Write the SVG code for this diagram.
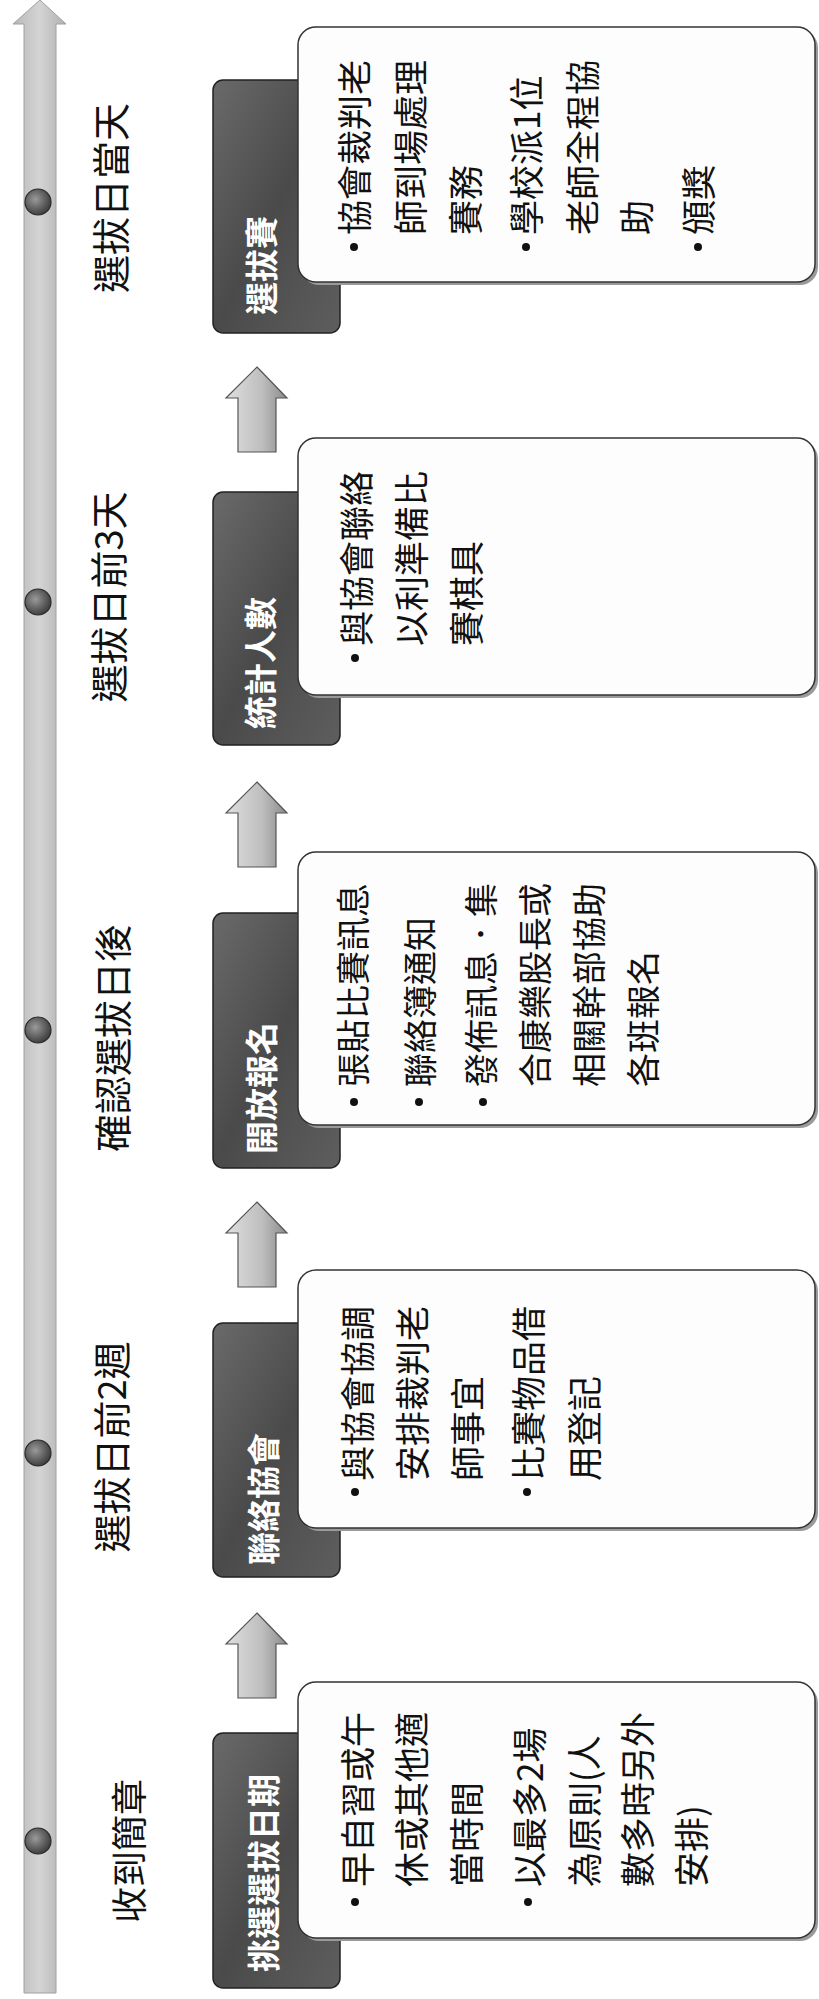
<svg xmlns="http://www.w3.org/2000/svg" width="819" height="1999" viewBox="0 0 819 1999">
<defs>
<linearGradient id="barG" x1="0" y1="0" x2="1" y2="0">
<stop offset="0" stop-color="#b8b8b8"/><stop offset="0.5" stop-color="#d4d4d4"/><stop offset="1" stop-color="#b0b0b0"/>
</linearGradient>
<linearGradient id="darkG" x1="0" y1="0" x2="1" y2="1">
<stop offset="0" stop-color="#6a6a6a"/><stop offset="0.5" stop-color="#4a4a4a"/><stop offset="1" stop-color="#5e5e5e"/>
</linearGradient>
<linearGradient id="arrG" x1="0" y1="0" x2="1" y2="0">
<stop offset="0" stop-color="#e0e0e0"/><stop offset="0.6" stop-color="#bdbdbd"/><stop offset="1" stop-color="#8a8a8a"/>
</linearGradient>
<radialGradient id="dotG" cx="0.4" cy="0.4" r="0.7">
<stop offset="0" stop-color="#9a9a9a"/><stop offset="0.6" stop-color="#5a5a5a"/><stop offset="1" stop-color="#333"/>
</radialGradient>
<style>
.lbl{font-family:"Noto Sans CJK TC","Noto Sans CJK SC",sans-serif;font-size:38px;fill:#111;text-anchor:middle;dominant-baseline:central}
.dk{fill:url(#darkG);stroke:#222;stroke-width:1.5}
.dkt{font-family:"Noto Sans CJK TC","Noto Sans CJK SC",sans-serif;font-size:33px;font-weight:bold;fill:#fff;dominant-baseline:central}
.wb{fill:#fdfdfd;stroke:#333;stroke-width:1.5}
.sh{fill:#9a9a9a}
.bt{font-family:"Noto Sans CJK TC","Noto Sans CJK SC",sans-serif;font-size:35px;fill:#111;dominant-baseline:central}
.bu{fill:#111}
.dot{fill:url(#dotG);stroke:#2a2a2a;stroke-width:1.2}
.arr{fill:url(#arrG);stroke:#555;stroke-width:1.2}
</style>
</defs>
<rect width="819" height="1999" fill="#fff"/>
<g id="timeline">
<path d="M40,0 L66,24 L56,24 L56,1993 L24,1993 L24,24 L13,24 Z" fill="url(#barG)" stroke="#a0a0a0" stroke-width="1"/>
<circle class="dot" cx="38" cy="202" r="13"/>
<circle class="dot" cx="38" cy="602" r="13"/>
<circle class="dot" cx="38" cy="1030" r="13"/>
<circle class="dot" cx="38" cy="1453" r="13"/>
<circle class="dot" cx="38" cy="1841" r="13"/>
</g>
<g id="connectors">
<path class="arr" d="M257,367 L287,398 L276,398 L276,452 L238,452 L238,398 L226,398 Z"/>
<path class="arr" d="M257,782 L287,813 L276,813 L276,867 L238,867 L238,813 L226,813 Z"/>
<path class="arr" d="M257,1202 L287,1233 L276,1233 L276,1287 L238,1287 L238,1233 L226,1233 Z"/>
<path class="arr" d="M257,1613 L287,1644 L276,1644 L276,1698 L238,1698 L238,1644 L226,1644 Z"/>
</g>
<g id="stage5">
<text class="lbl" transform="translate(108 198) rotate(-90)">選拔日當天</text>
<rect class="dk" x="213" y="80" width="127" height="253" rx="10"/>
<text class="dkt" transform="translate(260 315) rotate(-90)">選拔賽</text>
<rect class="sh" x="301" y="30" width="517" height="255" rx="18"/>
<rect class="wb" x="298" y="27" width="517" height="255" rx="18"/>
<circle class="bu" cx="354" cy="247" r="4"/>
<circle class="bu" cx="526" cy="247" r="4"/>
<circle class="bu" cx="698" cy="247" r="4"/>
<text class="bt" transform="translate(352 235) rotate(-90)">協會裁判老</text>
<text class="bt" transform="translate(408 235) rotate(-90)">師到場處理</text>
<text class="bt" transform="translate(463 235) rotate(-90)">賽務</text>
<text class="bt" transform="translate(524 235) rotate(-90)">學校派1位</text>
<text class="bt" transform="translate(580 235) rotate(-90)">老師全程協</text>
<text class="bt" transform="translate(634 235) rotate(-90)">助</text>
<text class="bt" transform="translate(696 235) rotate(-90)">頒獎</text>
</g>
<g id="stage4">
<text class="lbl" transform="translate(106 597) rotate(-90)">選拔日前3天</text>
<rect class="dk" x="213" y="492" width="127" height="253" rx="10"/>
<text class="dkt" transform="translate(259 729) rotate(-90)">統計人數</text>
<rect class="sh" x="301" y="441" width="517" height="257" rx="18"/>
<rect class="wb" x="298" y="438" width="517" height="257" rx="18"/>
<circle class="bu" cx="355" cy="658" r="4"/>
<text class="bt" transform="translate(354 646) rotate(-90)">與協會聯絡</text>
<text class="bt" transform="translate(409 646) rotate(-90)">以利準備比</text>
<text class="bt" transform="translate(464 646) rotate(-90)">賽棋具</text>
</g>
<g id="stage3">
<text class="lbl" transform="translate(110 1038) rotate(-90)">確認選拔日後</text>
<rect class="dk" x="213" y="913" width="127" height="255" rx="10"/>
<text class="dkt" transform="translate(260 1154) rotate(-90)">開放報名</text>
<rect class="sh" x="301" y="855" width="517" height="273" rx="18"/>
<rect class="wb" x="298" y="852" width="517" height="273" rx="18"/>
<circle class="bu" cx="354" cy="1102" r="4"/>
<circle class="bu" cx="419" cy="1102" r="4"/>
<circle class="bu" cx="483" cy="1102" r="4"/>
<text class="bt" style="font-size:34px" transform="translate(351 1087) rotate(-90)">張貼比賽訊息</text>
<text class="bt" style="font-size:34px" transform="translate(418 1087) rotate(-90)">聯絡簿通知</text>
<text class="bt" style="font-size:34px" transform="translate(479 1087) rotate(-90)">發佈訊息．集</text>
<text class="bt" style="font-size:34px" transform="translate(533 1087) rotate(-90)">合康樂股長或</text>
<text class="bt" style="font-size:34px" transform="translate(587 1087) rotate(-90)">相關幹部協助</text>
<text class="bt" style="font-size:34px" transform="translate(641 1087) rotate(-90)">各班報名</text>
</g>
<g id="stage2">
<text class="lbl" transform="translate(109 1447) rotate(-90)">選拔日前2週</text>
<rect class="dk" x="213" y="1323" width="127" height="254" rx="10"/>
<text class="dkt" transform="translate(262 1565) rotate(-90)">聯絡協會</text>
<rect class="sh" x="301" y="1273" width="517" height="258" rx="18"/>
<rect class="wb" x="298" y="1270" width="517" height="258" rx="18"/>
<circle class="bu" cx="355" cy="1492" r="4"/>
<circle class="bu" cx="527" cy="1492" r="4"/>
<text class="bt" transform="translate(355 1481) rotate(-90)">與協會協調</text>
<text class="bt" transform="translate(410 1481) rotate(-90)">安排裁判老</text>
<text class="bt" transform="translate(465 1481) rotate(-90)">師事宜</text>
<text class="bt" transform="translate(526 1481) rotate(-90)">比賽物品借</text>
<text class="bt" transform="translate(582 1481) rotate(-90)">用登記</text>
</g>
<g id="stage1">
<text class="lbl" style="font-size:36px" transform="translate(127 1851) rotate(-90)">收到簡章</text>
<rect class="dk" x="213" y="1733" width="127" height="255" rx="10"/>
<text class="dkt" transform="translate(262 1972) rotate(-90)">挑選選拔日期</text>
<rect class="sh" x="301" y="1685" width="517" height="256" rx="18"/>
<rect class="wb" x="298" y="1682" width="517" height="256" rx="18"/>
<circle class="bu" cx="355" cy="1902" r="4"/>
<circle class="bu" cx="528" cy="1902" r="4"/>
<text class="bt" transform="translate(355 1887) rotate(-90)">早自習或午</text>
<text class="bt" transform="translate(409 1887) rotate(-90)">休或其他適</text>
<text class="bt" transform="translate(464 1887) rotate(-90)">當時間</text>
<text class="bt" transform="translate(527 1887) rotate(-90)">以最多2場</text>
<text class="bt" transform="translate(582 1887) rotate(-90)">為原則(人</text>
<text class="bt" transform="translate(635 1887) rotate(-90)">數多時另外</text>
<text class="bt" transform="translate(689 1887) rotate(-90)">安排)</text>
</g>
</svg>
